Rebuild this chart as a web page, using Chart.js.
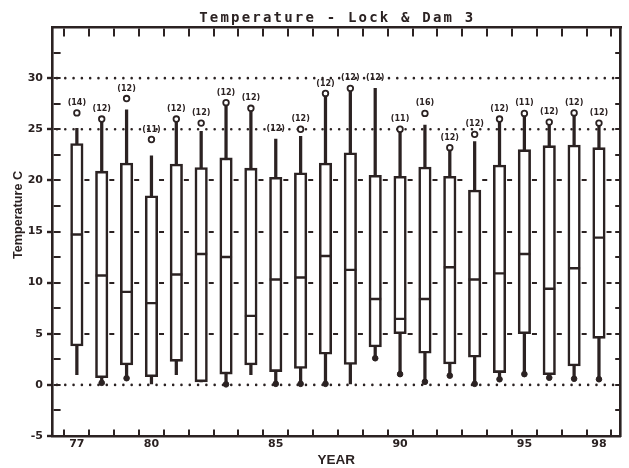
<!DOCTYPE html>
<html><head><meta charset="utf-8">
<script src="https://cdn.jsdelivr.net/npm/chart.js@4"></script>
<style>html,body{margin:0;padding:0;background:#fff}#wrap{width:629px;height:468px}</style>
</head><body><div id="wrap"><canvas id="c" width="629" height="468"></canvas></div>
<script>
// ---- data ----
const years       = [77, 78, 79, 80, 81, 82, 83, 84, 85, 86, 87, 88, 89, 90, 91, 92, 93, 94, 95, 96, 97, 98];
const counts      = [14, 12, 12, 11, 12, 12, 12, 12, 12, 12, 12, 12, 12, 11, 16, 12, 12, 12, 11, 12, 12, 12];
const boxHigh     = [23.6, 20.9, 21.7, 18.5, 21.6, 21.25, 22.2, 21.2, 20.3, 20.75, 21.7, 22.7, 20.5, 20.4, 21.3, 20.4, 19.05, 21.5, 23.0, 23.4, 23.45, 23.2];
const medians     = [14.7, 10.7, 9.1, 8.0, 10.8, 12.8, 12.5, 6.75, 10.3, 10.5, 12.6, 11.25, 8.4, 6.45, 8.4, 11.5, 10.3, 10.9, 12.8, 9.4, 11.4, 14.4];
const boxLow      = [3.8, 0.7, 1.95, 0.8, 2.3, 0.3, 1.05, 1.95, 1.3, 1.6, 3.0, 2.0, 3.7, 5.0, 3.1, 2.05, 2.7, 1.2, 5.0, 1.0, 1.85, 4.55];
const whiskerHigh = [25.1, 26.0, 26.9, 22.4, 26.0, 24.8, 27.6, 27.0, 24.05, 24.3, 28.5, 29.0, 29.0, 25.0, 25.4, 23.2, 23.8, 26.0, 26.55, 25.7, 26.6, 25.6];
const whiskerLow  = [1.0, 0.2, 0.65, 0.1, 1.0, 0.3, 0.05, 1.0, 0.1, 0.1, 0.1, 0.0, 2.6, 1.05, 0.3, 0.9, 0.1, 0.55, 1.05, 0.7, 0.6, 0.55];
const outHigh     = [26.6, 26.0, 28.0, 24.0, 26.0, 25.6, 27.6, 27.05, null, 25.0, 28.5, 29.0, null, 25.0, 26.55, 23.2, 24.5, 26.0, 26.55, 25.7, 26.6, 25.6];
const outLow      = [null, 0.2, 0.65, null, null, null, 0.05, null, 0.1, 0.1, 0.1, null, 2.6, 1.05, 0.3, 0.9, 0.1, 0.55, 1.05, 0.7, 0.6, 0.55];
const refLines    = [0, 25, 30];
const xTickLabels = [77, 80, 85, 90, 95, 98];
const markLevels  = [5, 10, 15, 20];
const TITLE = 'Temperature - Lock & Dam 3';
const Y_TITLE = 'Temperature C';
const X_TITLE = 'YEAR';

// ---- styling ----
const INK = '#2b2222';
const CLEAR = 'rgba(0,0,0,0)';
const X_MIN = 76, X_MAX = 98.87;
const boundaries = years.map(v => v - 0.5).concat([years[years.length - 1] + 0.5]);

function segsToDash(segs) {
  const d = [0]; let pos = 0;
  segs.forEach(([a, b]) => { d.push(Math.max(0, a - pos)); d.push(Math.max(0, b - a)); pos = b; });
  d.push(5000);
  return d;
}

const datasets = [];
refLines.forEach(v => datasets.push({
  type: 'line', data: [{x: X_MIN + 0.2, y: v}, {x: X_MAX - 0.1, y: v}],
  borderColor: INK, borderWidth: 2.6, borderDash: [0, 8.3], borderCapStyle: 'round',
  pointRadius: 0, order: 10, xAxisID: 'x', yAxisID: 'y'
}));
datasets.push({
  type: 'bar', data: years.map((yr, i) => ({x: yr, y: [whiskerLow[i] ?? boxLow[i], whiskerHigh[i] ?? boxHigh[i]]})),
  backgroundColor: INK, borderWidth: 0, barThickness: 2.6, grouped: false, order: 6, xAxisID: 'x', yAxisID: 'y'
});
datasets.push({
  type: 'bar', data: years.map((yr, i) => ({x: yr, y: [boxLow[i], boxHigh[i]]})),
  backgroundColor: '#ffffff', borderColor: INK, borderWidth: 2.6, borderSkipped: false,
  barThickness: 12.5, grouped: false, order: 5, xAxisID: 'x', yAxisID: 'y'
});
datasets.push({
  type: 'scatter', data: years.map((yr, i) => ({x: yr, y: medians[i]})),
  pointStyle: 'line', pointRadius: 6, borderColor: INK, borderWidth: 2.4, order: 4, xAxisID: 'x', yAxisID: 'y'
});
datasets.push({
  type: 'scatter', data: years.map((yr, i) => ({x: yr, y: outHigh[i]})),
  pointStyle: 'circle', pointRadius: 2.8, backgroundColor: '#ffffff', borderColor: INK, borderWidth: 1.8, order: 3, xAxisID: 'x', yAxisID: 'y'
});
datasets.push({
  type: 'scatter', data: years.map((yr, i) => ({x: yr, y: outLow[i]})),
  pointStyle: 'circle', pointRadius: 2.8, backgroundColor: INK, borderColor: INK, borderWidth: 1, order: 3, xAxisID: 'x', yAxisID: 'y'
});

const textPlugin = {
  id: 'textPlugin',
  afterDatasetsDraw(chart) {
    const {ctx, scales: {x, y}} = chart;
    ctx.save();
    ctx.fillStyle = INK;
    ctx.font = 'bold 8px "DejaVu Sans"';
    ctx.textAlign = 'center'; ctx.textBaseline = 'middle';
    years.forEach((yr, i) => {
      const top = outHigh[i] ?? whiskerHigh[i];
      ctx.fillText('(' + counts[i] + ')', x.getPixelForValue(yr), y.getPixelForValue(top) - 10);
    });
    ctx.restore();
  },
  afterDraw(chart) {
    const {ctx, chartArea: ca} = chart;
    ctx.save();
    ctx.fillStyle = INK;
    ctx.letterSpacing = '2.2px';
    ctx.font = 'bold 14px "DejaVu Sans Mono"';
    ctx.textAlign = 'center'; ctx.textBaseline = 'alphabetic';
    ctx.fillText(TITLE, (ca.left + ca.right) / 2 + 1, ca.top - 5.5);
    ctx.restore();
    ctx.save();
    ctx.fillStyle = INK;
    ctx.font = 'bold 12.6px "Liberation Sans"';
    ctx.textAlign = 'center'; ctx.textBaseline = 'middle';
    ctx.translate(18.5, 215);
    ctx.rotate(-Math.PI / 2);
    ctx.fillText(Y_TITLE, 0, 0);
    ctx.restore();
  }
};

new Chart(document.getElementById('c'), {
  type: 'bar',
  data: {datasets},
  options: {
    responsive: false, animation: false, events: [],
    layout: {padding: {top: 27, right: 0, bottom: 0, left: 0}},
    plugins: {legend: {display: false}, tooltip: {enabled: false}, title: {display: false}},
    scales: {
      x: {
        type: 'linear', position: 'bottom', min: X_MIN, max: X_MAX, offset: false,
        afterBuildTicks: s => { s.ticks = xTickLabels.map(v => ({value: v})); },
        afterFit: s => { s.height = 32; },
        grid: {display: false, drawTicks: false, offset: false},
        border: {display: true, color: INK, width: 2.6},
        ticks: {color: INK, font: {family: 'DejaVu Sans', weight: 'bold', size: 11}, padding: 2, maxRotation: 0, autoSkip: false, callback: v => String(v)},
        title: {display: true, text: X_TITLE, color: INK, font: {family: 'Liberation Sans', weight: 'bold', size: 13.5}, padding: {top: 2.4, bottom: 0}}
      },
      xb: {
        type: 'linear', position: 'top', min: X_MIN, max: X_MAX, offset: false,
        afterBuildTicks: s => { s.ticks = boundaries.map(v => ({value: v})); },
        afterFit: s => { s.height = 0; },
        ticks: {display: false},
        grid: {display: true, drawTicks: false, color: INK, lineWidth: 2, offset: false},
        border: {display: true, color: INK, width: 2.6, dash: c => {
          const ca = c.chart.chartArea; if (!ca) return [];
          const H = ca.bottom - ca.top; return [8, H - 16, 8, 5000];
        }}
      },
      y: {
        type: 'linear', position: 'left', min: -5, max: 35,
        afterFit: s => { s.width = 52; },
        ticks: {stepSize: 2.5, autoSkip: false, color: INK, font: {family: 'DejaVu Sans', weight: 'bold', size: 11}, padding: 4,
          callback: v => (v % 5 === 0 && v < 35) ? String(v) : ''},
        grid: {display: true, lineWidth: 2, tickLength: 5, tickWidth: 2.4,
          color: c => (c.tick && c.tick.value > -5 && c.tick.value < 35) ? INK : CLEAR,
          tickColor: c => (c.tick && c.tick.value % 5 === 0 && c.tick.value < 35) ? INK : CLEAR},
        border: {display: true, color: INK, width: 2.6, dash: c => {
          const ca = c.chart.chartArea; const xs = c.chart.scales.x;
          if (!ca || !xs || !c.tick) return [];
          const W = ca.right - ca.left;
          const segs = [[0, 7]];
          if (markLevels.includes(c.tick.value)) {
            years.forEach(yr => { const a = xs.getPixelForValue(yr + 0.24) - ca.left; segs.push([a, a + 5]); });
          }
          segs.push([W - 7, W]);
          return segsToDash(segs);
        }}
      },
      yr: {
        type: 'linear', position: 'right', min: -5, max: 35,
        afterFit: s => { s.width = 5; },
        ticks: {display: false},
        grid: {display: false, drawTicks: false},
        border: {display: true, color: INK, width: 2.6}
      }
    }
  },
  plugins: [textPlugin]
});
</script>
</body></html>
